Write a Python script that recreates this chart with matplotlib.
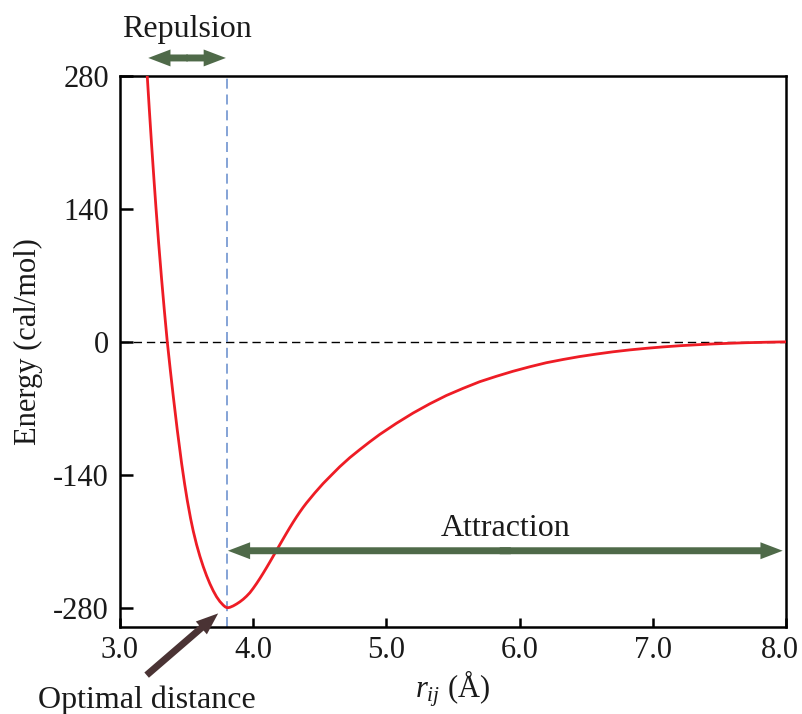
import matplotlib
matplotlib.use('Agg')
import matplotlib.pyplot as plt
from matplotlib.transforms import ScaledTranslation

# ---- data ----
r_vals = [3.20, 3.205, 3.22, 3.237, 3.255, 3.27, 3.29, 3.312, 3.333, 3.355,
          3.378, 3.40, 3.43, 3.4625, 3.485, 3.505, 3.53, 3.55, 3.575, 3.60,
          3.625, 3.65, 3.675, 3.70, 3.725, 3.75, 3.775, 3.79, 3.80, 3.81,
          3.825, 3.85, 3.875, 3.90, 3.925, 3.95, 3.975, 4.00, 4.025, 4.05,
          4.075, 4.10, 4.125, 4.15, 4.175, 4.20, 4.225, 4.25, 4.275, 4.30,
          4.325, 4.35, 4.375, 4.40, 4.4625, 4.525, 4.5875, 4.65, 4.725, 4.80,
          4.875, 4.95, 5.075, 5.2, 5.325, 5.45, 5.575, 5.7, 5.825, 5.95,
          6.075, 6.2, 6.325, 6.45, 6.575, 6.7, 6.825, 6.95, 7.075, 7.2,
          7.325, 7.45, 7.575, 7.7, 7.85, 8.0]
energy_vals = [291, 279, 245, 208, 171, 141.4, 104.4, 66.6, 33, 0,
               -30, -57.4, -92.8, -127.9, -149.5, -166.9, -186, -199.3, -213.6, -225.9,
               -236.7, -246.3, -254.8, -262.2, -268.5, -273.5, -277.3, -279.1, -279.8, -280,
               -279.6, -278.1, -276.1, -273.8, -271.1, -267.9, -264.2, -259.6, -254.6, -249.25,
               -243.65, -237.85, -231.9, -225.8, -219.7, -213.6, -207.5, -201.5, -195.6, -189.9,
               -184.45, -179.25, -174.3, -169.7, -159.1, -149.2, -140.3, -131.5, -122, -113.5,
               -105.3, -97.5, -85.8, -75, -65.3, -56.5, -49, -42, -36.3, -31,
               -26.3, -22, -18.6, -15.5, -12.9, -10.5, -8.5, -6.8, -5.35, -4.1,
               -3.1, -2.2, -1.5, -0.9, -0.4, 0]
r_optimal = 3.8
x_ticks = [3.0, 4.0, 5.0, 6.0, 7.0, 8.0]
x_tick_labels = ['3.0', '4.0', '5.0', '6.0', '7.0', '8.0']
y_ticks = [-280, -140, 0, 140, 280]
y_tick_labels = ['-280', '-140', '0', '140', '280']

plt.rcParams['font.family'] = ['Liberation Serif', 'DejaVu Serif']
plt.rcParams['mathtext.fontset'] = 'custom'
plt.rcParams['mathtext.rm'] = 'Liberation Serif'
plt.rcParams['mathtext.it'] = 'Liberation Serif:italic'

TXT = '#1a1a1a'
GREEN = '#4f6a49'
BROWN = '#4a3334'

fig = plt.figure(figsize=(8.03, 7.14), dpi=100)
ax = fig.add_axes([120 / 803, 1 - 626.7 / 714, 666 / 803, 550.7 / 714])

ax.plot(r_vals, energy_vals, color='#ee1c25', lw=2.0, zorder=3,
        solid_joinstyle='round', solid_capstyle='round')
ax.axhline(0, color='black', lw=1.0, ls=(0, (6, 3.5)), zorder=2)
ax.axvline(r_optimal, color='#6f94d0', lw=1.2, ls=(0, (6, 3.5)), zorder=2)

ax.set_xlim(3.0, 8.0)
ax.set_ylim(-300, 280)
ax.set_xticks(x_ticks)
ax.set_xticklabels(x_tick_labels)
ax.set_yticks(y_ticks)
ax.set_yticklabels(y_tick_labels)

for s in ax.spines.values():
    s.set_linewidth(1.8)
ax.tick_params(axis='y', direction='in', length=9.5, width=1.8, labelsize=22, pad=8,
               colors='black', labelcolor=TXT)
ax.tick_params(axis='x', direction='in', length=6.7, width=1.8, labelsize=22, pad=7,
               colors='black', labelcolor=TXT)

# keep the last x tick label inside the figure
last = ax.get_xticklabels()[-1]
last.set_transform(last.get_transform() + ScaledTranslation(-6 / 100, 0, fig.dpi_scale_trans))

ax.set_xlabel(r'$r_{ij}$ (Å)', fontsize=22, color=TXT, labelpad=2)
fig.text(28 / 803, 1 - 342 / 714, 'Energy (cal/mol)', rotation=90, ha='center', va='center',
         fontsize=22, color=TXT)

style = 'simple,head_length=1.6,head_width=1.22,tail_width=0.5'


def arrow(x0, y0, x1, y1, color):
    ax.annotate('', xy=(x1, y1), xytext=(x0, y0), xycoords='data', textcoords='data',
                arrowprops=dict(arrowstyle=style, color=color, lw=0, shrinkA=0, shrinkB=0,
                                mutation_scale=10),
                annotation_clip=False, zorder=5)


def double_arrow(x0, x1, y, color):
    mid = (x0 + x1) / 2
    eps = (x1 - x0) * 0.01
    arrow(mid + eps, y, x0, y, color)
    arrow(mid - eps, y, x1, y, color)


# Repulsion arrow (above the axes)
double_arrow(3.212, 3.795, 299, GREEN)
ax.text(3.5, 321, 'Repulsion', ha='center', va='baseline', fontsize=23, color=TXT)

# Attraction arrow
double_arrow(3.81, 7.975, -220, GREEN)
ax.text(5.894, -205, 'Attraction', ha='center', va='baseline', fontsize=23, color=TXT)

# Optimal distance arrow
arrow(3.2, -351, 3.737, -286, BROWN)
ax.text(3.2, -386, 'Optimal distance', ha='center', va='baseline', fontsize=23, color=TXT)

fig.savefig('out.png', dpi=100)
